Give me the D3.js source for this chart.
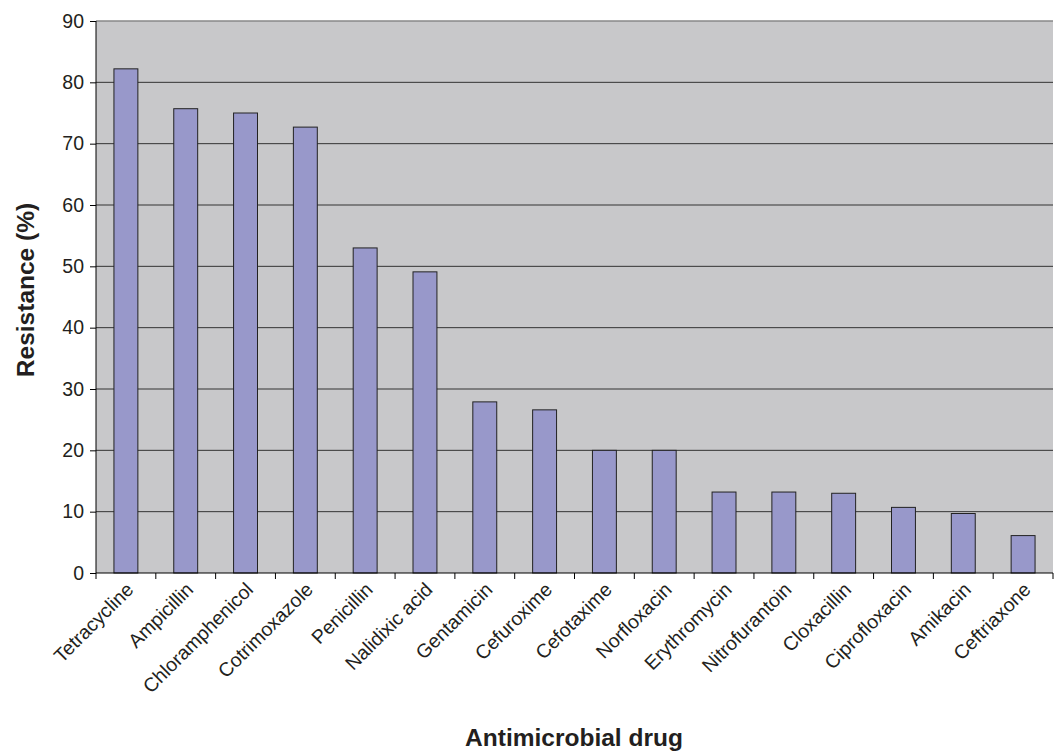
<!DOCTYPE html>
<html><head><meta charset="utf-8">
<script src="https://cdn.jsdelivr.net/npm/d3@7"></script>
<style>body{margin:0;background:#fff;} text{font-family:"Liberation Sans",Arial,sans-serif;}</style>
</head><body>
<svg id="c" width="1058" height="751"></svg>
<script>
const drugs = ["Tetracycline","Ampicillin","Chloramphenicol","Cotrimoxazole","Penicillin","Nalidixic acid","Gentamicin","Cefuroxime","Cefotaxime","Norfloxacin","Erythromycin","Nitrofurantoin","Cloxacillin","Ciprofloxacin","Amikacin","Ceftriaxone"];
const resistance = [82.2,75.7,75.0,72.7,53.0,49.1,27.9,26.6,20.0,20.0,13.2,13.2,13.0,10.7,9.7,6.1];
const yTicks = [0,10,20,30,40,50,60,70,80,90];

const svg = d3.select("#c");
const L = 96, R = 1053, T = 21, B = 573;
const x = d3.scaleBand().domain(drugs).range([L, R]).paddingInner(0.6).paddingOuter(0.3);
const xb = d3.scaleBand().domain(drugs).range([L, R]);
const y = d3.scaleLinear().domain([0, 90]).range([B, T]);

svg.append("rect").attr("x", L).attr("y", T).attr("width", R - L).attr("height", B - T).attr("fill", "#c8c8ca");
svg.append("g").selectAll("line").data(yTicks.filter(d => d > 0 && d < 90)).join("line")
  .attr("x1", L).attr("x2", R).attr("y1", d => y(d)).attr("y2", d => y(d))
  .attr("stroke", "#333").attr("stroke-width", 1);
svg.append("line").attr("x1", L).attr("x2", R).attr("y1", y(90)).attr("y2", y(90)).attr("stroke", "#888").attr("stroke-width", 1.5);

svg.append("g").selectAll("rect").data(drugs).join("rect")
  .attr("x", d => x(d)).attr("width", x.bandwidth())
  .attr("y", (d, i) => y(resistance[i])).attr("height", (d, i) => B - y(resistance[i]))
  .attr("fill", "#9898ca").attr("stroke", "#222").attr("stroke-width", 1);

const ya = svg.append("g").attr("transform", `translate(${L},0)`)
  .call(d3.axisLeft(y).tickValues(yTicks).tickSize(6).tickPadding(6));
ya.select(".domain").attr("stroke", "#000").attr("d", `M0,${T}V${B}`);
ya.selectAll(".tick line").attr("stroke", "#000");
ya.selectAll("text").attr("font-size", 19.5).attr("fill", "#231f20").attr("font-family", "Liberation Sans, Arial, sans-serif");

const xa = svg.append("g").attr("transform", `translate(0,${B})`);
xa.append("line").attr("x1", L).attr("x2", R).attr("y1", 0).attr("y2", 0).attr("stroke", "#000");
const bounds = drugs.map(d => xb(d)).concat([R]);
xa.selectAll("line.t").data(bounds).join("line").attr("class", "t")
  .attr("x1", d => d).attr("x2", d => d).attr("y1", 0).attr("y2", 6).attr("stroke", "#000");
xa.selectAll("text").data(drugs).join("text")
  .attr("transform", d => `translate(${x(d) + x.bandwidth() / 2 + 4},${13}) rotate(-45)`)
  .attr("text-anchor", "end").attr("dy", "0.35em")
  .attr("font-size", 19.5).attr("fill", "#231f20").text(d => d);

svg.append("text").attr("transform", "translate(34,290) rotate(-90)").attr("text-anchor", "middle")
  .attr("font-size", 24.5).attr("font-weight", "bold").attr("fill", "#231f20").text("Resistance (%)");
svg.append("text").attr("x", 574).attr("y", 746).attr("text-anchor", "middle")
  .attr("font-size", 24.5).attr("font-weight", "bold").attr("fill", "#231f20").text("Antimicrobial drug");
</script>
</body></html>
